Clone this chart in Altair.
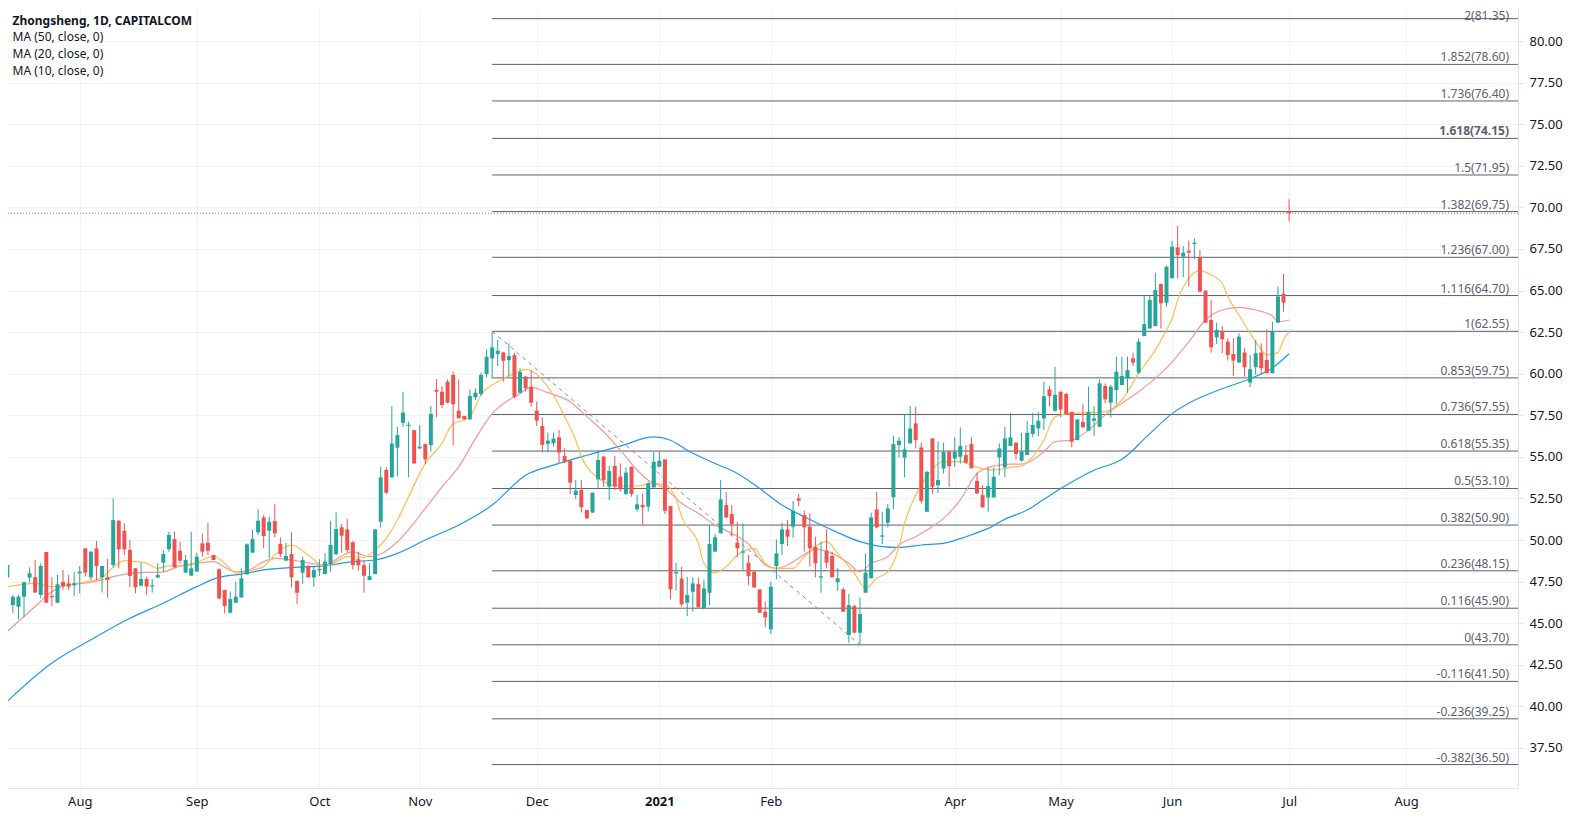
import altair as alt
import pandas as pd

# ---------------- data ----------------
opens = [47.74, 46.09, 45.99, 46.59, 47.74, 47.76, 46.70, 49.28, 46.59, 46.23,
         47.48, 47.40, 47.28, 48.00, 49.50, 47.76, 49.50, 47.76, 47.76, 48.50,
         51.16, 50.56, 49.40, 48.30, 47.25, 47.66, 47.20, 47.74, 48.64, 49.44,
         50.06, 49.36, 48.04, 47.86, 48.10, 49.80, 49.84, 49.10, 48.24, 47.00,
         45.63, 46.23, 46.55, 47.94, 49.24, 50.46, 51.36, 50.56, 51.14, 49.76,
         48.76, 49.16, 47.55, 48.03, 48.43, 47.75, 48.18, 47.95, 48.55, 49.14,
         50.76, 50.64, 49.86, 48.85, 48.49, 47.59, 47.95, 51.10, 54.21, 53.77,
         55.55, 57.05, 56.85, 56.61, 55.51, 55.77, 55.71, 59.02, 58.92, 59.52,
         59.92, 57.78, 57.46, 57.26, 58.58, 58.78, 59.98, 60.92, 61.18, 61.28,
         60.82, 61.12, 58.86, 59.83, 59.22, 57.78, 56.86, 55.78, 55.82, 56.18,
         55.05, 54.77, 52.71, 53.01, 51.81, 51.65, 53.65, 55.01, 53.21, 54.45,
         53.81, 52.77, 54.41, 51.85, 52.11, 52.01, 53.16, 54.41, 54.85, 52.04,
         47.99, 47.69, 46.23, 46.89, 47.35, 45.89, 46.83, 49.30, 50.40, 52.10,
         51.56, 49.84, 49.24, 48.63, 48.09, 47.03, 45.69, 44.63, 48.43, 49.76,
         50.64, 50.80, 52.51, 51.50, 50.80, 49.60, 47.74, 49.36, 49.04, 47.46,
         47.03, 44.29, 46.03, 44.43, 46.83, 47.70, 51.84, 50.20, 51.04, 52.57,
         55.71, 54.95, 55.81, 57.01, 55.57, 51.70, 56.11, 53.30, 54.30, 55.30,
         54.90, 55.01, 55.11, 55.77, 53.56, 52.70, 52.56, 52.56, 54.97, 54.37,
         55.65, 55.85, 54.77, 55.11, 56.37, 56.71, 57.31, 59.06, 57.77, 58.92,
         58.78, 57.71, 56.01, 57.11, 56.57, 57.17, 56.81, 59.26, 58.26, 59.02,
         59.32, 59.72, 60.92, 60.06, 62.26, 62.72, 62.86, 65.39, 64.27, 65.74,
         67.60, 67.04, 67.40, 67.80, 67.00, 65.00, 63.23, 62.19, 62.53, 61.93,
         61.19, 60.67, 61.27, 59.47, 60.39, 61.27, 60.83, 60.03, 63.07, 64.80,
         69.75]
highs = [48.70, 46.70, 46.70, 47.50, 48.36, 48.80, 48.60, 49.28, 47.76, 47.90,
         48.20, 47.90, 48.06, 48.44, 49.50, 49.34, 49.94, 48.44, 48.86, 52.51,
         51.20, 51.00, 50.00, 48.30, 48.64, 47.80, 47.66, 48.60, 49.40, 50.50,
         50.50, 49.90, 49.10, 50.50, 49.24, 50.40, 51.04, 49.10, 48.30, 47.00,
         46.90, 47.50, 48.30, 49.80, 50.60, 51.85, 51.50, 51.40, 52.14, 50.16,
         49.84, 50.46, 47.55, 49.00, 48.50, 48.43, 48.84, 49.20, 51.16, 51.66,
         50.96, 51.26, 49.94, 49.30, 48.80, 48.60, 50.64, 54.41, 54.37, 58.05,
         56.81, 58.92, 57.12, 56.61, 56.91, 55.81, 58.06, 59.68, 59.26, 59.66,
         60.12, 59.66, 57.46, 59.06, 59.12, 60.06, 61.46, 62.55, 62.03, 61.32,
         61.83, 61.26, 60.32, 59.87, 60.19, 58.32, 57.38, 56.46, 56.46, 56.62,
         55.52, 54.77, 53.61, 53.61, 51.81, 52.85, 55.42, 55.05, 54.45, 55.05,
         54.61, 54.37, 54.41, 52.71, 52.81, 53.51, 55.31, 55.31, 54.85, 52.04,
         48.63, 48.39, 47.79, 47.75, 47.75, 47.63, 50.90, 50.36, 53.60, 52.90,
         52.10, 51.10, 51.00, 49.10, 48.15, 47.03, 46.29, 47.49, 50.04, 51.04,
         51.20, 52.35, 52.77, 51.76, 51.60, 50.20, 49.90, 50.64, 49.30, 48.30,
         47.15, 46.75, 46.09, 46.55, 49.20, 51.64, 52.91, 51.70, 52.16, 56.25,
         56.21, 57.52, 58.06, 58.01, 55.85, 54.16, 56.11, 55.91, 55.85, 55.41,
         56.17, 56.77, 55.71, 56.17, 54.04, 53.30, 54.36, 54.36, 55.81, 56.81,
         57.65, 55.91, 56.45, 57.17, 57.65, 57.71, 59.52, 59.26, 60.42, 58.92,
         58.86, 57.71, 57.25, 58.17, 59.22, 58.05, 59.66, 59.42, 59.32, 61.02,
         61.02, 61.02, 61.26, 62.12, 64.67, 64.73, 66.07, 65.43, 66.50, 68.00,
         68.88, 67.68, 68.00, 68.14, 67.44, 65.00, 64.44, 63.07, 62.87, 62.13,
         62.13, 62.43, 61.53, 61.13, 62.03, 61.83, 62.67, 63.13, 65.24, 66.00,
         70.49]
lows = [47.16, 45.63, 45.23, 45.39, 47.44, 46.84, 46.49, 46.23, 46.03, 46.23,
        47.00, 47.00, 46.63, 46.80, 47.80, 47.60, 47.60, 46.84, 46.53, 48.36,
        48.30, 49.10, 47.16, 46.80, 47.24, 46.69, 46.84, 47.74, 48.10, 49.30,
        48.30, 48.60, 48.04, 47.84, 48.10, 49.00, 49.10, 48.80, 46.43, 45.59,
        45.59, 46.23, 46.55, 47.90, 49.24, 50.30, 49.50, 48.90, 50.16, 48.96,
        48.76, 47.15, 46.15, 47.35, 47.75, 47.19, 47.83, 47.95, 48.09, 49.10,
        49.24, 49.24, 48.23, 48.15, 46.83, 47.59, 47.95, 50.76, 52.76, 53.75,
        53.81, 56.81, 53.77, 54.57, 55.45, 54.57, 55.31, 57.38, 57.92, 58.22,
        55.71, 57.32, 57.22, 57.22, 58.42, 58.66, 59.78, 59.72, 60.46, 59.52,
        59.82, 58.52, 58.82, 58.92, 58.02, 56.86, 55.26, 55.26, 55.62, 54.65,
        54.61, 52.77, 52.45, 51.65, 51.25, 51.65, 53.05, 53.21, 52.41, 53.01,
        52.91, 52.71, 52.61, 51.71, 50.91, 51.71, 53.16, 54.37, 51.56, 46.43,
        46.95, 45.99, 45.43, 45.69, 45.93, 45.83, 46.09, 49.30, 50.40, 51.30,
        50.24, 48.96, 48.19, 47.29, 47.15, 45.63, 44.75, 44.35, 47.63, 49.10,
        49.64, 50.14, 52.04, 49.30, 48.40, 47.76, 46.83, 48.30, 47.76, 46.95,
        45.69, 43.83, 44.39, 43.69, 46.83, 47.70, 50.70, 49.76, 50.76, 51.84,
        54.97, 53.77, 55.81, 55.51, 52.20, 51.70, 52.76, 52.84, 54.00, 53.20,
        54.40, 54.60, 54.60, 54.31, 52.76, 51.96, 51.70, 52.56, 53.90, 53.80,
        55.65, 54.85, 54.71, 55.11, 56.17, 56.25, 56.61, 58.02, 57.71, 57.37,
        57.57, 55.57, 56.01, 56.77, 56.57, 56.25, 56.81, 58.22, 57.37, 58.17,
        59.32, 58.86, 60.46, 59.98, 62.26, 62.72, 62.86, 62.72, 64.03, 65.74,
        65.74, 65.80, 65.24, 66.88, 64.88, 63.07, 61.27, 61.79, 61.23, 60.79,
        59.87, 60.67, 59.83, 59.19, 59.93, 59.99, 60.03, 60.03, 63.07, 63.73,
        69.15]
closes = [48.50, 46.59, 46.59, 47.46, 48.00, 46.84, 48.44, 46.23, 46.55, 47.34,
          47.24, 47.20, 47.40, 48.10, 48.04, 49.30, 48.44, 48.44, 47.60, 51.20,
          49.44, 49.44, 47.84, 47.16, 47.66, 47.20, 47.24, 47.90, 49.16, 50.30,
          48.36, 48.76, 48.80, 48.30, 49.00, 49.30, 49.36, 48.80, 46.49, 46.03,
          46.45, 46.59, 47.70, 49.74, 50.06, 51.16, 50.24, 51.10, 50.40, 49.16,
          49.04, 47.75, 46.83, 48.80, 47.75, 48.20, 48.22, 48.70, 49.70, 50.66,
          50.26, 49.40, 48.49, 48.49, 47.85, 47.83, 50.64, 53.77, 52.84, 55.80,
          56.31, 57.66, 56.93, 54.61, 55.61, 54.85, 57.58, 58.92, 58.12, 58.26,
          58.16, 57.32, 57.26, 58.66, 58.86, 59.92, 61.02, 61.58, 61.38, 60.78,
          61.06, 58.62, 60.10, 59.12, 58.26, 57.18, 55.72, 55.98, 56.10, 55.26,
          54.71, 53.45, 52.97, 51.97, 51.31, 52.85, 54.81, 53.61, 54.15, 53.21,
          53.05, 54.05, 52.77, 52.15, 51.97, 53.41, 54.71, 54.77, 51.76, 47.03,
          48.05, 46.13, 46.69, 47.39, 45.95, 47.09, 49.76, 50.16, 52.44, 51.36,
          50.96, 49.50, 49.30, 47.83, 47.15, 45.63, 45.35, 47.19, 49.20, 50.64,
          50.20, 51.76, 52.37, 50.76, 49.50, 48.60, 47.76, 48.64, 47.76, 47.70,
          45.69, 46.09, 44.43, 45.55, 48.04, 51.36, 50.76, 50.26, 51.90, 55.77,
          55.97, 55.45, 56.70, 56.01, 52.36, 54.10, 53.20, 53.60, 55.30, 54.44,
          55.30, 55.65, 54.65, 54.31, 52.80, 51.96, 53.24, 53.80, 55.51, 56.11,
          56.17, 55.17, 55.30, 56.45, 56.91, 57.17, 58.65, 58.66, 58.72, 57.85,
          57.57, 55.91, 57.25, 56.77, 57.71, 57.31, 59.42, 58.46, 59.22, 60.12,
          59.86, 60.22, 60.66, 61.92, 62.98, 64.43, 65.03, 64.23, 66.43, 67.64,
          67.14, 67.28, 67.28, 67.84, 64.94, 63.07, 61.59, 62.63, 62.07, 61.13,
          60.79, 62.23, 60.39, 60.27, 61.23, 60.33, 60.03, 62.53, 64.64, 64.27,
          69.65]
bar_idx = list(range(len(opens)))

month_idx = [13, 34, 56, 74, 95, 117, 137, 170, 189, 209, 230, 251]
month_lbl = ["Aug", "Sep", "Oct", "Nov", "Dec", "2021", "Feb", "Apr", "May", "Jun", "Jul", "Aug"]
year_tick = 117

price_ticks = [37.5, 40.0, 42.5, 45.0, 47.5, 50.0, 52.5, 55.0, 57.5, 60.0,
               62.5, 65.0, 67.5, 70.0, 72.5, 75.0, 77.5, 80.0]

ma50_idx = [0, 8, 15, 22, 28, 34, 38, 42, 46, 51, 57, 62, 66, 70, 75, 81, 87, 93,
            98, 104, 110, 116, 119, 122, 127, 131, 135, 139, 143, 148, 153, 157,
            160, 164, 168, 172, 176, 179, 183, 186, 190, 195, 200, 205, 209, 213,
            218, 223, 227, 230]
ma50_val = [40.3, 42.6, 44.0, 45.3, 46.2, 47.2, 47.75, 47.95, 48.2, 48.35, 48.45,
            48.7, 48.8, 49.2, 50.0, 50.9, 52.1, 53.9, 54.5, 55.1, 55.65, 56.2, 56.0,
            55.4, 54.6, 54.0, 53.1, 52.1, 51.4, 50.6, 49.9, 49.6, 49.55, 49.7, 49.8,
            50.2, 50.7, 51.25, 51.8, 52.45, 53.3, 54.2, 54.85, 56.4, 57.6, 58.4,
            59.1, 59.7, 60.35, 61.2]

ma20_idx = [0, 5, 8, 11, 14, 17, 19, 23, 28, 31, 34, 37, 39, 41, 43, 46, 48, 51, 54,
            57, 60, 62, 63, 65, 67, 70, 75, 78, 81, 84, 87, 90, 92, 94, 97, 101, 104,
            107, 110, 113, 115, 118, 121, 124, 127, 130, 133, 136, 138, 140, 142, 145,
            148, 151, 153, 155, 158, 160, 163, 165, 168, 171, 174, 177, 180, 182, 186,
            188, 191, 194, 197, 200, 203, 206, 209, 212, 215, 218, 221, 224, 227, 228,
            230]
ma20_val = [44.5, 46.0, 46.9, 47.3, 47.4, 47.6, 47.8, 48.03, 48.09, 48.44, 48.6, 48.7,
            48.36, 48.09, 48.15, 48.7, 48.9, 48.8, 48.63, 48.5, 49.04, 49.3, 49.2, 49.0,
            49.16, 49.9, 51.9, 53.2, 54.4, 56.1, 57.6, 58.42, 58.8, 59.18, 58.86, 58.32,
            57.42, 56.51, 55.41, 54.21, 53.6, 53.11, 52.21, 51.61, 50.9, 50.4, 49.76,
            48.5, 48.3, 48.5, 48.9, 49.44, 49.2, 48.6, 48.09, 48.6, 49.0, 49.7, 50.2,
            50.6, 51.3, 52.41, 54.0, 54.45, 54.57, 54.57, 55.3, 55.91, 56.01, 56.61,
            57.52, 58.22, 58.92, 59.72, 60.7, 61.92, 63.23, 63.83, 63.99, 63.83, 63.47,
            63.13, 63.23]

ma10_idx = [0, 2, 5, 8, 11, 14, 17, 19, 21, 23, 25, 27, 29, 32, 35, 37, 39, 41, 42,
            44, 46, 48, 51, 54, 57, 59, 61, 64, 66, 68, 70, 72, 75, 78, 80, 81, 83, 85,
            88, 91, 93, 94, 96, 98, 100, 102, 103, 105, 107, 110, 113, 116, 118, 120,
            121, 124, 125, 127, 129, 131, 133, 134, 136, 138, 141, 143, 147, 149, 152,
            154, 156, 158, 160, 161, 163, 165, 168, 171, 174, 177, 180, 182, 184, 186,
            188, 191, 194, 197, 200, 203, 206, 208, 209, 210, 212, 214, 216, 218, 219,
            221, 223, 225, 226, 228, 229, 230]
ma10_val = [47.19, 47.29, 47.39, 47.19, 47.29, 47.49, 47.75, 48.36, 48.76, 48.70,
            48.6, 48.3, 48.44, 48.44, 48.8, 49.04, 48.6, 48.03, 48.03, 48.2, 48.4,
            49.1, 49.7, 49.1, 48.4, 48.7, 49.0, 48.96, 49.4, 50.1, 51.2, 52.6, 54.61,
            55.82, 57.01, 57.11, 57.42, 58.72, 59.52, 60.02, 60.26, 60.18, 59.62,
            58.72, 57.42, 56.01, 55.01, 54.01, 53.51, 53.25, 53.25, 53.41, 53.31,
            52.5, 51.41, 49.8, 48.6, 48.03, 48.40, 49.10, 49.44, 49.5, 48.6, 48.30,
            48.3, 49.0, 49.9, 49.2, 48.0, 47.1, 47.70, 48.09, 49.6, 51.0, 52.7, 53.81,
            54.71, 54.71, 54.37, 54.21, 54.37, 54.45, 55.01, 56.0, 57.42, 57.62,
            57.66, 57.72, 58.42, 60.02, 61.43, 62.63, 63.3, 64.43, 65.74, 66.20, 65.94,
            65.44, 64.63, 63.53, 62.43, 61.47, 61.13, 61.27, 62.03, 62.53]

fib_ratio = ["2", "1.852", "1.736", "1.618", "1.5", "1.382", "1.236", "1.116", "1",
             "0.853", "0.736", "0.618", "0.5", "0.382", "0.236", "0.116", "0",
             "-0.116", "-0.236", "-0.382"]
fib_price = [81.35, 78.60, 76.40, 74.15, 71.95, 69.75, 67.00, 64.70, 62.55, 59.75,
             57.55, 55.35, 53.10, 50.90, 48.15, 45.90, 43.70, 41.50, 39.25, 36.50]
fib_start_idx = 87
fib_bold_ratio = "1.618"
fib_top_ratio = "2"

trend_idx = [87, 153]
trend_val = [62.55, 43.70]

last_price = 69.65

legend_title = "Zhongsheng, 1D, CAPITALCOM"
legend_ma = ["MA (50, close, 0)", "MA (20, close, 0)", "MA (10, close, 0)"]

# ---------------- styling ----------------
W, H = 1510, 780
FONT = "Noto Sans"
UP, DOWN = "#26a69a", "#ef5350"
GRID = "#f0f3fa"
BORDER = "#e0e3eb"
TXT = "#131722"
FIBC = "#5d606b"
C50, C20, C10 = "#2196f3", "#f19a98", "#ffbd50"

xs = alt.Scale(domain=[0.126, 271.07], nice=False, zero=False, padding=0)
ys = alt.Scale(domain=[35.09, 81.99], nice=False, zero=False, padding=0)

label_expr = " : ".join(f"datum.value == {i} ? '{l}'" for i, l in zip(month_idx, month_lbl)) + " : ''"

x_axis = alt.Axis(values=month_idx, labelExpr=label_expr, grid=True, gridColor=GRID,
                  domainColor=BORDER, ticks=False, tickSize=0, labelFontSize=13,
                  labelColor=TXT, labelPadding=7, labelFont=FONT, labelOverlap=False,
                  labelFlush=False, title=None,
                  labelFontWeight={"condition": {"test": f"datum.value == {year_tick}", "value": "bold"},
                                   "value": "normal"})
y_axis = alt.Axis(orient="right", values=price_ticks, format=".2f", grid=True, gridColor=GRID,
                  domainColor=BORDER, tickColor=BORDER, tickSize=5, labelFontSize=13,
                  labelColor=TXT, labelPadding=6, labelFont=FONT, labelOverlap=False, title=None)


def X(field):
    return alt.X(field, type="quantitative", scale=xs, axis=x_axis)


def Y(field):
    return alt.Y(field, type="quantitative", scale=ys, axis=y_axis)


df = pd.DataFrame({"idx": bar_idx, "open": opens, "high": highs, "low": lows, "close": closes})
base = alt.Chart(df).transform_calculate(
    dir="datum.close >= datum.open ? 'up' : 'down'",
    body_lo="min(datum.open, datum.close)",
    body_hi="max(datum.open, datum.close)",
).transform_calculate(
    body_top="datum.body_hi - datum.body_lo < 0.08 ? datum.body_lo + 0.08 : datum.body_hi"
)
color = alt.Color("dir:N", scale=alt.Scale(domain=["up", "down"], range=[UP, DOWN]), legend=None)

wicks = base.mark_rule(strokeWidth=1).encode(x=X("idx"), y=Y("low"), y2="high:Q", color=color)
bodies = base.mark_bar(width=4).encode(x=X("idx"), y=Y("body_lo"), y2="body_top:Q", color=color)

fib_df = pd.DataFrame({"ratio": fib_ratio, "price": fib_price})
fib_df["label"] = [f"{r}({p:.2f})" for r, p in zip(fib_ratio, fib_price)]

fib_rules = alt.Chart(fib_df).mark_rule(color=FIBC, strokeWidth=1).encode(
    x=alt.X(datum=fib_start_idx, type="quantitative", scale=xs, axis=x_axis),
    x2=alt.value(W),
    y=Y("price"),
)


def fib_labels(test, weight, dy):
    return alt.Chart(fib_df).transform_filter(test).mark_text(
        align="right", baseline="alphabetic", dy=dy, fontSize=12, fontWeight=weight,
        color=FIBC, font=FONT
    ).encode(x=alt.value(1501), y=Y("price"), text="label:N")


fib_text = fib_labels(f"datum.ratio != '{fib_bold_ratio}' && datum.ratio != '{fib_top_ratio}'", "normal", -3)
fib_text_b = fib_labels(f"datum.ratio == '{fib_bold_ratio}'", "bold", -3)
fib_text_top = fib_labels(f"datum.ratio == '{fib_top_ratio}'", "normal", 1)

trend = alt.Chart(pd.DataFrame({"idx": trend_idx, "val": trend_val})).mark_line(
    color="#8a8d96", strokeWidth=1, strokeDash=[4, 4]
).encode(x=X("idx"), y=Y("val"))

price_line = alt.Chart(pd.DataFrame({"p": [last_price]})).mark_rule(
    color=DOWN, strokeWidth=1, strokeDash=[1, 2]
).encode(y=Y("p"), x=alt.value(0), x2=alt.value(W))


def ma_layer(ix, vals, col):
    return alt.Chart(pd.DataFrame({"idx": ix, "v": vals})).mark_line(
        color=col, strokeWidth=1.2, interpolate="monotone", clip=True
    ).encode(x=X("idx"), y=Y("v"))


ma50 = ma_layer(ma50_idx, ma50_val, C50)
ma20 = ma_layer(ma20_idx, ma20_val, C20)
ma10 = ma_layer(ma10_idx, ma10_val, C10)

leg_title = alt.Chart(pd.DataFrame({"t": [legend_title]})).mark_text(
    align="left", baseline="middle", fontSize=12, fontWeight="bold", color=TXT, font=FONT
).encode(x=alt.value(4.5), y=alt.value(12.5), text="t:N")
leg_layers = []
for k, txt in enumerate(legend_ma):
    leg_layers.append(
        alt.Chart(pd.DataFrame({"t": [txt]})).mark_text(
            align="left", baseline="middle", fontSize=12, color=TXT, font=FONT
        ).encode(x=alt.value(4.5), y=alt.value([28.5, 45.5, 62.5][k]), text="t:N")
    )

chart = alt.layer(
    fib_rules, trend, price_line, ma50, ma20, ma10,
    wicks, bodies, fib_text, fib_text_b, fib_text_top, leg_title, *leg_layers,
).properties(
    width=W, height=H,
    autosize=alt.AutoSizeParams(type="none"),
    padding={"left": 0, "top": 0, "right": 46, "bottom": 22},
    background="white",
).configure_view(stroke=None)

chart.save("out.html", embed_options={"renderer": "svg", "actions": False})
